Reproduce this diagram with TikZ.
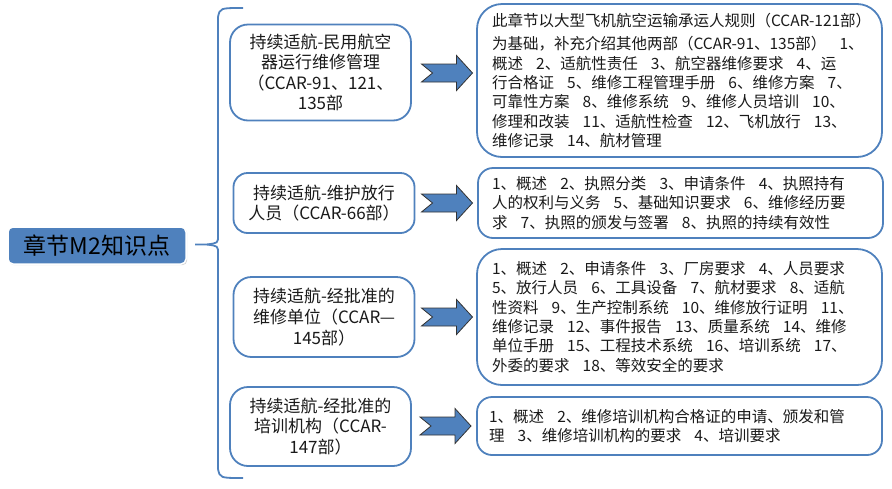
\documentclass[tikz,border=0pt]{standalone}
\usepackage{fontspec}
\setmainfont{Noto Sans CJK SC}
\usetikzlibrary{shadows}
\definecolor{bblue}{HTML}{4F81BD}
\definecolor{txt}{HTML}{1A1A1A}
\newcommand{\gp}{\hspace{0.85em}}
\begin{document}
\begin{tikzpicture}[x=1pt,y=-1pt,
  lbox/.style={draw=bblue, line width=1.8pt, rounded corners=18pt, fill=white, align=center,
    text=txt, font=\fontsize{17}{20.6}\selectfont, minimum width=181pt, inner sep=2pt},
  rbox/.style={draw=bblue, line width=1.8pt, fill=white, align=left, text=txt,
    text width=375pt, inner xsep=15pt, inner ysep=0pt, font=\fontsize{15.5}{19.3}\selectfont},
  rootbox/.style={fill=bblue, draw=white, line width=1.5pt, rounded corners=5pt,
    minimum width=178pt, minimum height=37pt, font=\fontsize{23}{26}\selectfont, text=black,
    drop shadow={opacity=0.35, shadow xshift=1.2pt, shadow yshift=-1.2pt}},
  bracel/.style={draw=bblue, line width=1.8pt},
  notcharrow/.pic={\filldraw[fill=bblue, draw=black!80, line width=0.8pt]
    (-25,-9) -- (10,-9) -- (10,-17.5) -- (26,0) -- (10,17.5) -- (10,9) -- (-25,9) -- (-14,0) -- cycle;}
]
\useasboundingbox (0,0) rectangle (892,488);

% root
\node[rootbox] (root) at (97,245.5) {章节M2知识点};

% brace
\coordinate (tip) at (195,244.5);
\coordinate (btop) at (243,8);
\coordinate (bbot) at (243,478);
\draw[bracel] (btop) .. controls (220,8) .. (218,17) -- (218,236)
  .. controls (218,243) .. (207,244.5) -- (tip);
\draw[bracel] (207,244.5) .. controls (218,246) .. (218,253) -- (218,469)
  .. controls (220,478) .. (bbot);

% left boxes
\node[lbox, minimum height=96pt] (b1) at (320.5,72.5)
  {持续适航-民用航空\\器运行维修管理\\（CCAR-91、121、\\135部};
\node[lbox, minimum height=60pt, rounded corners=14pt] (b2) at (324,203)
  {持续适航-维护放行\\人员（CCAR-66部）};
\node[lbox, minimum height=80pt] (b3) at (324,317)
  {持续适航-经批准的\\维修单位（CCAR—\\145部）};
\node[lbox, minimum height=79pt] (b4) at (320.5,426.5)
  {持续适航-经批准的\\培训机构（CCAR-\\147部）};

% right boxes
\node[rbox, minimum height=153pt, rounded corners=25pt] (r1) at (679.5,80.5)
  {\vspace*{4pt}\mbox{此章节以大型飞机航空运输承运人规则（CCAR-121部）}\\
   为基础，补充介绍其他两部（CCAR-91、135部）\gp 1、\\
   概述\gp 2、适航性责任\gp 3、航空器维修要求\gp 4、运\\
   行合格证\gp 5、维修工程管理手册\gp 6、维修方案\gp 7、\\
   可靠性方案\gp 8、维修系统\gp 9、维修人员培训\gp 10、\\
   修理和改装\gp 11、适航性检查\gp 12、飞机放行\gp 13、\\
   维修记录\gp 14、航材管理};
\node[rbox, minimum height=70pt, rounded corners=15pt, text width=377pt, inner xsep=14pt] (r2) at (680.5,203)
  {1、概述\gp 2、执照分类\gp 3、申请条件\gp 4、执照持有\\
   人的权利与义务\gp 5、基础知识要求\gp 6、维修经历要\\
   求\gp 7、执照的颁发与签署\gp 8、执照的持续有效性};
\node[rbox, minimum height=136pt, rounded corners=25pt] (r3) at (679.5,317)
  {1、概述\gp 2、申请条件\gp 3、厂房要求\gp 4、人员要求\\
   5、放行人员\gp 6、工具设备\gp 7、航材要求\gp 8、适航\\
   性资料\gp 9、生产控制系统\gp 10、维修放行证明\gp 11、\\
   维修记录\gp 12、事件报告\gp 13、质量系统\gp 14、维修\\
   单位手册\gp 15、工程技术系统\gp 16、培训系统\gp 17、\\
   外委的要求\gp 18、等效安全的要求};
\node[rbox, minimum height=58pt, rounded corners=15pt, text width=381pt, inner xsep=12pt] (r4) at (679.5,426)
  {1、概述\gp 2、维修培训机构合格证的申请、颁发和管\\
   理\gp 3、维修培训机构的要求\gp 4、培训要求};

% arrows
\pic at (446.5,73) {notcharrow};
\pic at (446.5,203) {notcharrow};
\pic at (446.5,317) {notcharrow};
\pic at (445,426) {notcharrow};
\end{tikzpicture}
\end{document}
